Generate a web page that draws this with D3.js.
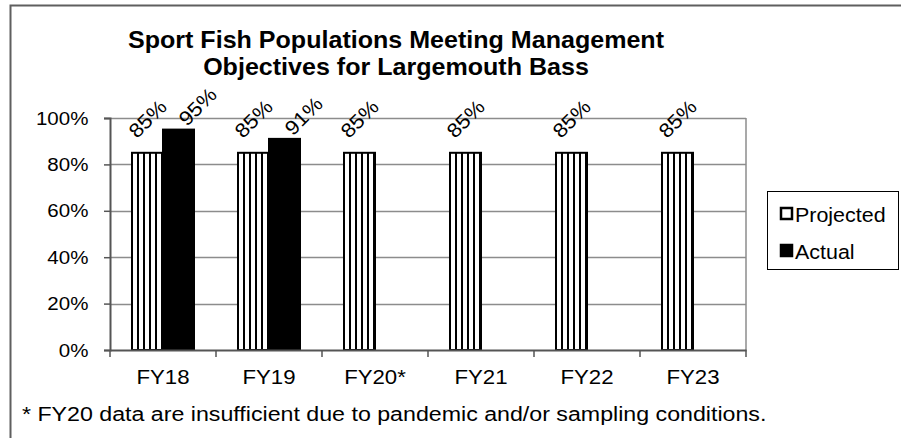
<!DOCTYPE html>
<html><head><meta charset="utf-8">
<script src="https://cdn.jsdelivr.net/npm/d3@7"></script>
<style>body{margin:0;background:#fff}svg{display:block;font-family:"Liberation Sans",Arial,sans-serif}</style>
</head><body><svg id="c" width="901" height="438"></svg>
<script>
const categories = ["FY18","FY19","FY20*","FY21","FY22","FY23"];
const projected = [0.85,0.85,0.85,0.85,0.85,0.85];
const actual = [0.95,0.91,null,null,null,null];
const yTicks = [0,0.2,0.4,0.6,0.8,1.0];
const seriesNames = ["Projected","Actual"];
const titleLines = ["Sport Fish Populations Meeting Management","Objectives for Largemouth Bass"];
const footnote = "* FY20 data are insufficient due to pandemic and/or sampling conditions.";

const svg = d3.select("#c");
const W = 901, H = 438;
const SX = 1.14;
svg.append("rect").attr("width",W).attr("height",H).attr("fill","#fff");
svg.append("rect").attr("x",10.5).attr("y",5.5).attr("width",W+20).attr("height",H+20)
  .attr("fill","none").attr("stroke","#5f5f5f").attr("stroke-width",2);

const x = d3.scaleBand().domain(categories).range([110,746]).padding(0);
const xs = d3.scaleBand().domain(seriesNames).range([22,84]).padding(0);
const y = d3.scaleLinear().domain([0,1]).range([350,118]);

svg.append("g").selectAll("line").data(yTicks.filter(d=>d>0)).join("line")
  .attr("x1",110).attr("x2",746).attr("y1",d=>Math.round(y(d))+0.5).attr("y2",d=>Math.round(y(d))+0.5)
  .attr("stroke","#8c8c8c").attr("stroke-width",1.5);
svg.append("line").attr("x1",746).attr("x2",746).attr("y1",y(1)).attr("y2",y(0))
  .attr("stroke","#8c8c8c").attr("stroke-width",1.5);

const defs = svg.append("defs");
categories.forEach((c,i)=>{
  const bx = x(c)+xs("Projected");
  const p = defs.append("pattern").attr("id","stripe"+i).attr("patternUnits","userSpaceOnUse")
    .attr("x",bx-1).attr("y",0).attr("width",6).attr("height",10);
  p.append("rect").attr("width",6).attr("height",10).attr("fill","#fff");
  p.append("rect").attr("x",0).attr("width",2).attr("height",10).attr("fill","#000");
});

svg.append("g").selectAll("rect").data(categories).join("rect")
  .attr("x",c=>x(c)+xs("Projected")).attr("width",xs.bandwidth())
  .attr("y",(c,i)=>y(projected[i])).attr("height",(c,i)=>y(0)-y(projected[i]))
  .attr("fill",(c,i)=>"url(#stripe"+i+")").attr("stroke","#000").attr("stroke-width",2);
const act = categories.map((c,i)=>({c,v:actual[i]})).filter(d=>d.v!=null);
svg.append("g").selectAll("rect").data(act).join("rect")
  .attr("x",d=>x(d.c)+xs("Actual")).attr("width",xs.bandwidth())
  .attr("y",d=>y(d.v)).attr("height",d=>y(0)-y(d.v))
  .attr("fill","#000").attr("stroke","#000").attr("stroke-width",2);

const yAxis = svg.append("g").attr("transform","translate(110,0)")
  .call(d3.axisLeft(y).tickValues(yTicks).tickFormat(d3.format(".0%")).tickSize(6).tickPadding(14));
yAxis.select(".domain").attr("stroke","#555").attr("stroke-width",2);
yAxis.selectAll(".tick line").attr("stroke","#555").attr("stroke-width",1.5);
yAxis.selectAll("text").attr("font-size",19).attr("fill","#000").attr("font-family","Liberation Sans, Arial, sans-serif")
  .attr("transform",`scale(${1.08},1)`);

const xAxis = svg.append("g").attr("transform","translate(0,350)")
  .call(d3.axisBottom(x).tickSize(0).tickPadding(0));
xAxis.select(".domain").attr("stroke","#555").attr("stroke-width",2);
xAxis.selectAll(".tick text").attr("y",34).attr("dy",0).attr("font-size",19.5).attr("fill","#000")
  .attr("font-family","Liberation Sans, Arial, sans-serif").attr("transform",`scale(${SX},1)`);
svg.append("g").selectAll("line").data(categories.concat(["end"])).join("line")
  .attr("x1",(c,i)=>110+i*x.step()).attr("x2",(c,i)=>110+i*x.step())
  .attr("y1",350).attr("y2",357).attr("stroke","#555").attr("stroke-width",1.5);

const labels = [];
categories.forEach((c,i)=>{
  labels.push({cx:x(c)+xs("Projected")+xs.bandwidth()/2, cy:y(projected[i])-34, t:d3.format(".0%")(projected[i])});
  if(actual[i]!=null) labels.push({cx:x(c)+xs("Actual")+xs.bandwidth()/2+19, cy:y(actual[i])-23, t:d3.format(".0%")(actual[i])});
});
svg.append("g").selectAll("text").data(labels).join("text")
  .attr("transform",d=>`translate(${d.cx},${d.cy}) rotate(-45) scale(1.1,1)`)
  .attr("text-anchor","middle").attr("dy","0.35em").attr("font-size",20).text(d=>d.t);

svg.append("g").selectAll("text").data(titleLines).join("text")
  .attr("transform",(d,i)=>`translate(396,${48+i*27}) scale(1.09,1)`).attr("text-anchor","middle")
  .attr("font-size",23).attr("font-weight","bold").text(d=>d);

svg.append("rect").attr("x",767.5).attr("y",191.5).attr("width",131).attr("height",78)
  .attr("fill","#fff").attr("stroke","#000").attr("stroke-width",1);
const lg = svg.append("g").selectAll("g").data(seriesNames).join("g")
  .attr("transform",(d,i)=>`translate(780,${211+i*37})`);
lg.append("rect").attr("x",1).attr("y",-3).attr("width",11).attr("height",11)
  .attr("fill",(d,i)=>i===0?"#fff":"#000").attr("stroke","#000").attr("stroke-width",2.5);
lg.append("text").attr("transform","translate(15,11) scale(1.1,1)").attr("font-size",19.5).text(d=>d);

svg.append("text").attr("transform",`translate(22,421) scale(1.16,1)`).attr("font-size",20).text(footnote);
</script></body></html>
